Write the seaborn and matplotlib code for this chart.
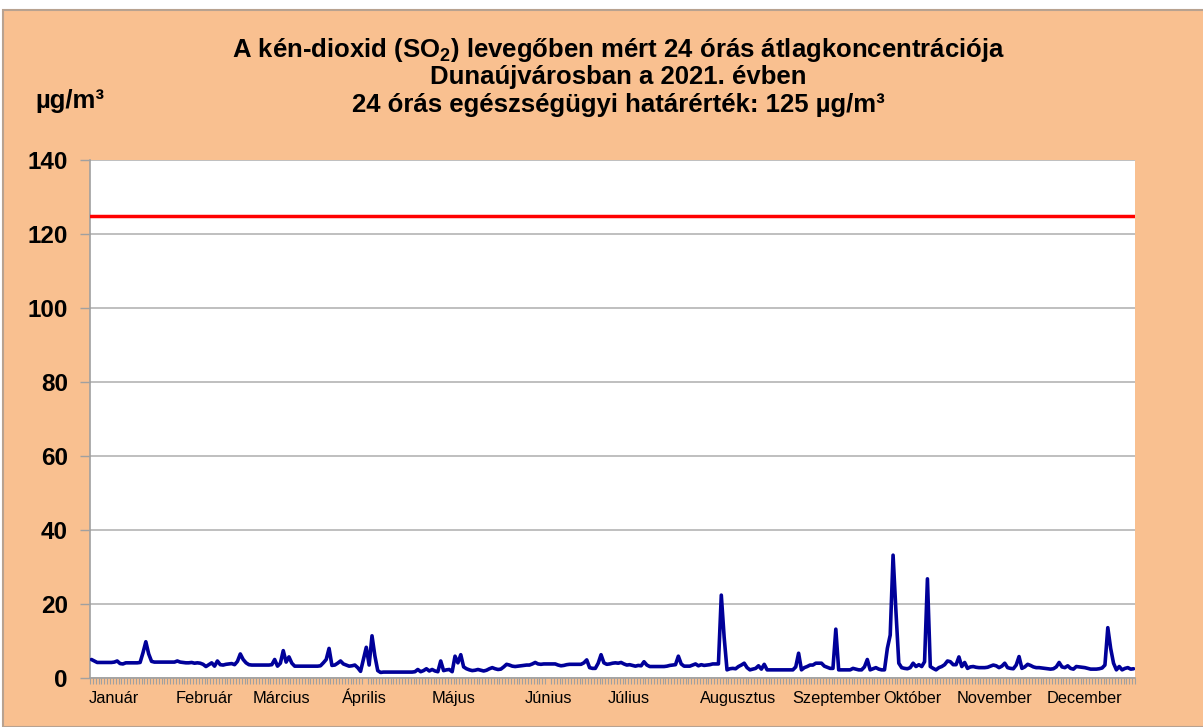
import numpy as np
import pandas as pd
import seaborn as sns
import matplotlib.pyplot as plt
from matplotlib.patches import Rectangle

# SO2 daily (24 h) averages, ug/m3
jan = [5.0, 4.6, 4.2, 4.2, 4.2, 4.2, 4.2, 4.2, 4.3, 4.6, 3.9, 3.8, 4.1, 4.1, 4.1, 4.1,
       4.1, 4.2, 6.8, 9.8, 6.5, 4.5, 4.3, 4.3, 4.3, 4.3, 4.3, 4.3, 4.3, 4.3, 4.6]
feb = [4.3, 4.2, 4.1, 4.1, 4.2, 4.0, 4.1, 4.0, 3.7, 3.1, 3.6, 4.1, 3.2, 4.6, 3.6, 3.5,
       3.7, 3.8, 3.9, 3.6, 4.5, 6.5, 5.0, 4.1, 3.6, 3.5, 3.5, 3.5]
mar = [3.5, 3.5, 3.5, 3.5, 3.6, 5.0, 3.2, 4.0, 7.4, 4.3, 5.7, 4.0, 3.2, 3.2, 3.2, 3.2,
       3.2, 3.2, 3.2, 3.2, 3.2, 3.3, 4.1, 5.0, 8.0, 3.4, 3.5, 4.0, 4.6, 3.8, 3.5]
apr = [3.2, 3.3, 3.5, 2.8, 1.8, 5.0, 8.3, 3.5, 11.4, 6.0, 2.0, 1.5, 1.6, 1.6, 1.6, 1.6,
       1.6, 1.6, 1.6, 1.6, 1.6, 1.6, 1.6, 1.7, 2.3, 1.7, 2.0, 2.5, 1.9, 2.3]
may = [1.9, 1.7, 4.6, 2.0, 2.2, 2.3, 1.7, 5.9, 4.1, 6.3, 3.0, 2.5, 2.2, 2.0, 2.1, 2.3,
       2.1, 1.9, 2.1, 2.5, 2.8, 2.5, 2.3, 2.4, 3.0, 3.7, 3.5, 3.2, 3.1, 3.2, 3.3]
jun = [3.4, 3.5, 3.5, 3.8, 4.2, 3.8, 3.7, 3.8, 3.8, 3.8, 3.8, 3.8, 3.5, 3.3, 3.4, 3.6,
       3.7, 3.7, 3.7, 3.7, 3.7, 4.1, 4.9, 2.8, 2.6, 2.6, 4.0, 6.3, 4.1, 3.7]
jul = [3.8, 4.0, 4.1, 4.0, 4.2, 3.8, 3.5, 3.6, 3.4, 3.2, 3.4, 3.3, 4.4, 3.5, 3.1, 3.1,
       3.1, 3.1, 3.1, 3.1, 3.2, 3.4, 3.5, 3.6, 5.9, 3.8, 3.2, 3.2, 3.2, 3.5, 3.8]
aug = [3.3, 3.6, 3.4, 3.5, 3.6, 3.8, 3.8, 3.8, 22.4, 11.0, 2.2, 2.5, 2.6, 2.5, 3.1, 3.5,
       4.0, 2.8, 2.2, 2.4, 2.6, 3.3, 2.4, 3.7, 2.2, 2.2, 2.2, 2.2, 2.2, 2.2, 2.2]
sep = [2.2, 2.2, 2.2, 3.0, 6.7, 2.2, 2.8, 3.1, 3.5, 3.5, 4.0, 4.0, 4.0, 3.2, 2.9, 2.6,
       2.6, 13.2, 2.2, 2.2, 2.2, 2.2, 2.2, 2.6, 2.4, 2.2, 2.2, 3.0, 5.0, 2.2]
oct = [2.5, 2.8, 2.4, 2.2, 2.2, 8.0, 11.6, 33.2, 18.0, 4.0, 2.8, 2.6, 2.5, 2.8, 4.0, 3.1,
       3.6, 3.1, 4.4, 26.8, 3.1, 2.6, 2.2, 2.8, 3.1, 3.6, 4.6, 4.4, 3.6, 3.6, 5.7]
nov = [3.1, 4.2, 2.6, 3.0, 3.1, 2.9, 2.8, 2.8, 2.8, 2.9, 3.2, 3.5, 3.3, 2.8, 3.2, 4.0,
       2.8, 2.6, 2.5, 3.5, 5.8, 2.6, 3.0, 3.7, 3.4, 3.0, 2.8, 2.8, 2.7, 2.6]
dec = [2.5, 2.4, 2.5, 3.0, 4.2, 3.0, 2.8, 3.3, 2.6, 2.4, 3.1, 3.0, 2.9, 2.8, 2.6, 2.4,
       2.4, 2.4, 2.5, 2.7, 3.5, 13.6, 8.0, 4.0, 2.2, 3.1, 2.2, 2.6, 2.8, 2.4, 2.5]

month_names = ["Január", "Február", "Március", "Április", "Május", "Június",
               "Július", "Augusztus", "Szeptember", "Október", "November", "December"]
limit_value = 125
y_ticks = [0, 20, 40, 60, 80, 100, 120, 140]

monthly = [jan, feb, mar, apr, may, jun, jul, aug, sep, oct, nov, dec]
values = [v for m in monthly for v in m]
assert len(values) == 365
df = pd.DataFrame({"day": np.arange(len(values)), "so2": values})

# where the month names sit along the day axis (centre of label)
label_pos = [7.9, 39.3, 66.2, 95.5, 126.6, 159.5, 187.8, 225.8, 260.4, 286.6, 315.6, 346.7]

sns.set_style("white")
plt.rcParams['font.family'] = ['Liberation Sans', 'DejaVu Sans']
plt.rcParams['mathtext.fontset'] = 'custom'
plt.rcParams['mathtext.bf'] = 'Liberation Sans:bold'
plt.rcParams['mathtext.default'] = 'bf'
plt.rcParams['text.color'] = 'black'

W, H = 1203, 727
fig = plt.figure(figsize=(W / 100, H / 100), dpi=100)
fig.patch.set_facecolor('white')
# orange chart area
fig.add_artist(Rectangle((3 / W, 0), 1, 1 - 10 / H, transform=fig.transFigure,
                         facecolor='#F9C090', edgecolor='#b8a290', lw=1.5, zorder=-5))

ax = fig.add_axes([90 / W, 1 - 678 / H, 1045 / W, 518 / H])
ax.set_facecolor('white')
ax.axhline(limit_value, color='red', lw=2.5, zorder=3)
sns.lineplot(data=df, x='day', y='so2', ax=ax, color='#000099', lw=2.6, zorder=4)

ax.set_xlim(-0.5, len(values) - 0.5)
ax.set_ylim(0, 140)
ax.set_yticks(y_ticks)
ax.set_yticklabels([str(t) for t in y_ticks], fontsize=17.5, fontweight='bold')
ax.yaxis.grid(True, color='#b4b4b4', lw=1.2)
ax.set_axisbelow(True)

# month names, one small tick per day
ax.set_xticks(label_pos)
ax.set_xticklabels(month_names, fontsize=11.8, ha='center', va='baseline')
ax.set_xticks(np.arange(-0.5, len(values), 1), minor=True)
ax.tick_params(axis='x', which='major', length=0, pad=18, labelcolor='black')
ax.tick_params(axis='x', which='minor', length=4, width=0.8, color='#a0a0a0', bottom=True)
ax.tick_params(axis='y', length=7, width=1, color='#a0a0a0', left=True, pad=9,
               labelcolor='black')
ax.set_xlabel('')
ax.set_ylabel('')

for side in ('top', 'right'):
    ax.spines[side].set_visible(False)
for side in ('left', 'bottom'):
    ax.spines[side].set_color('#a0a0a0')
    ax.spines[side].set_linewidth(1.2)

# title and unit
title_x = 618 / W
fig.text(title_x, 1 - 50 / H, "A kén-dioxid (SO$_2$) levegőben mért 24 órás átlagkoncentrációja",
         ha='center', va='center', fontsize=18.5, fontweight='bold')
fig.text(title_x, 1 - 77 / H, "Dunaújvárosban a 2021. évben",
         ha='center', va='center', fontsize=18.5, fontweight='bold')
fig.text(title_x, 1 - 105 / H, "24 órás egészségügyi határérték: 125 µg/m³",
         ha='center', va='center', fontsize=18.5, fontweight='bold')
fig.text(35 / W, 1 - 101 / H, "µg/m³", ha='left', va='center', fontsize=18.5, fontweight='bold')

fig.savefig('out.png', dpi=100)
